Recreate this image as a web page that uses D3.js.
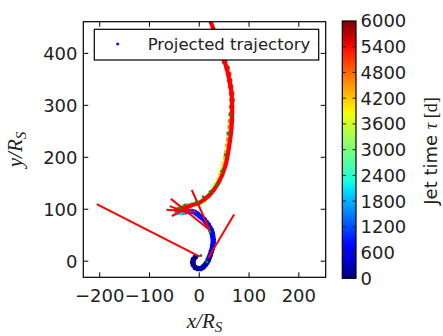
<!DOCTYPE html>
<html>
<head>
<meta charset="utf-8">
<script src="https://cdn.jsdelivr.net/npm/d3@7"></script>
<style>
  body { margin: 0; background: #fff; }
  svg { display: block; }
</style>
</head>
<body>
<div id="chart"></div>
<script>
// trajectory points (x, y in R_S, jet time tau in days)
var trajX = [-8, -12, -13, -12, -8, -3, 3, 8, 12, 15, 18, 20, 22, 24, 26, 27, 28, 28, 27, 26,
  24, 21, 18, 14, 10, 5, 1, -4, -9, -15, -21, -27, -33, -39, -45,
  -40, -32, -24, -15, -6, 2, 10, 17, 23, 29, 34, 39, 43, 47, 50, 53, 55, 57, 59, 60,
  62, 63, 64, 65, 66, 65, 63, 61, 59, 56, 51, 45, 39, 33, 28];
var trajY = [8, 3, -2, -7, -12, -14, -14, -11, -7, -3, 2, 7, 12, 18, 24, 30, 36, 42, 48, 54,
  60, 65, 70, 75, 80, 84, 87, 91, 94, 96, 96, 95, 94, 94, 94,
  100, 104, 107, 109, 111, 113, 118, 124, 131, 139, 148, 157, 167, 177, 188, 199, 210, 222, 234, 246,
  258, 270, 283, 297, 310, 323, 336, 348, 360, 372, 384, 398, 412, 428, 444];
var trajTau = [0, 30, 60, 90, 120, 160, 200, 240, 280, 320, 360, 400, 440, 480, 520, 560, 600, 640, 680, 700,
  720, 740, 760, 780, 800, 830, 860, 900, 950, 1050, 1200, 1450, 1750, 2050, 2300,
  2600, 2750, 2900, 3000, 3100, 3200, 3300, 3400, 3500, 3600, 3700, 3800, 3900, 4000, 4100, 4200, 4300, 4400, 4500, 4600,
  4700, 4800, 4900, 5000, 5050, 5100, 5150, 5200, 5250, 5300, 5350, 5400, 5400, 5400, 5400];

// thick red jet curve along the late trajectory
var curveX = [-50, -45, -25, 1, 21, 38, 52, 60, 65, 66, 64, 59, 53, 47, 34, 28, 23, 19];
var curveY = [97, 99, 105, 113, 128, 150, 182, 221, 259, 298, 330, 355, 378, 391, 426, 447, 461, 475];

// straight red jet segments
var segX0 = [-206, 70, -57, -15, -66, -55, -59];
var segY0 = [110, 90, 120, 137, 99, 87, 106];
var segX1 = [1, 18, 21, 20, -7, -15, -19];
var segY1 = [9, 6, 60, 62, 95, 106, 91];

// green markers
var markX = [3, 15, 21, -39, -29, -5, 8, 22, 35, 45, 52, 58, 62];
var markY = [11, -1, 57, 102, 108, 115, 124, 134, 147, 173, 205, 246, 282];

var xTicks = [-200, -100, 0, 100, 200];
var yTicks = [0, 100, 200, 300, 400];
var cbTicks = [0, 600, 1200, 1800, 2400, 3000, 3600, 4200, 4800, 5400, 6000];

var W = 443, H = 336;
var plot = {left: 83.3, right: 325.7, top: 21.7, bottom: 277.3};
var cb = {left: 342.3, right: 356, top: 21, bottom: 278.3};

// matplotlib jet colormap
function jet(t) {
  t = Math.max(0, Math.min(1, t));
  function seg(pts) {
    for (var i = 1; i < pts.length; i++) {
      if (t <= pts[i][0]) {
        var a = pts[i - 1], b = pts[i];
        return a[1] + (b[1] - a[1]) * (t - a[0]) / (b[0] - a[0]);
      }
    }
    return pts[pts.length - 1][1];
  }
  var r = seg([[0, 0], [0.35, 0], [0.66, 1], [0.89, 1], [1, 0.5]]);
  var g = seg([[0, 0], [0.125, 0], [0.375, 1], [0.64, 1], [0.91, 0], [1, 0]]);
  var b = seg([[0, 0.5], [0.11, 1], [0.34, 1], [0.65, 0], [1, 0]]);
  return d3.rgb(r * 255, g * 255, b * 255).formatHex();
}

var svg = d3.select("#chart").append("svg")
  .attr("width", W).attr("height", H)
  .style("font-family", "'DejaVu Sans', sans-serif");

var x = d3.scaleLinear().domain([-233, 254]).range([plot.left, plot.right]);
var y = d3.scaleLinear().domain([-31, 461]).range([plot.bottom, plot.top]);
var c = d3.scaleLinear().domain([0, 6000]).range([0, 1]);

svg.append("clipPath").attr("id", "clip")
  .append("rect")
  .attr("x", plot.left).attr("y", plot.top)
  .attr("width", plot.right - plot.left).attr("height", plot.bottom - plot.top);

var g = svg.append("g").attr("clip-path", "url(#clip)");

// scatter
g.selectAll("circle.traj")
  .data(trajX.map(function(d, i) { return [d, trajY[i], trajTau[i]]; }))
  .enter().append("circle")
  .attr("class", "traj")
  .attr("cx", function(d) { return x(d[0]); })
  .attr("cy", function(d) { return y(d[1]); })
  .attr("r", 2.8)
  .attr("fill", function(d) { return jet(c(d[2])); });

// red curve
g.append("path")
  .datum(curveX.map(function(d, i) { return [d, curveY[i]]; }))
  .attr("fill", "none")
  .attr("stroke", "#ff0000")
  .attr("stroke-width", 4.2)
  .attr("d", d3.line()
    .curve(d3.curveCatmullRom)
    .x(function(d) { return x(d[0]); })
    .y(function(d) { return y(d[1]); }));

// red segments
g.selectAll("line.seg")
  .data(segX0.map(function(d, i) { return [d, segY0[i], segX1[i], segY1[i]]; }))
  .enter().append("line")
  .attr("x1", function(d) { return x(d[0]); })
  .attr("y1", function(d) { return y(d[1]); })
  .attr("x2", function(d) { return x(d[2]); })
  .attr("y2", function(d) { return y(d[3]); })
  .attr("stroke", "#ff0000")
  .attr("stroke-width", 2);

// green markers
g.selectAll("circle.mark")
  .data(markX.map(function(d, i) { return [d, markY[i]]; }))
  .enter().append("circle")
  .attr("cx", function(d) { return x(d[0]); })
  .attr("cy", function(d) { return y(d[1]); })
  .attr("r", 1.5)
  .attr("fill", "#109010");

// frame
svg.append("rect")
  .attr("x", plot.left).attr("y", plot.top)
  .attr("width", plot.right - plot.left).attr("height", plot.bottom - plot.top)
  .attr("fill", "none").attr("stroke", "#000").attr("stroke-width", 1.2);

// ticks, inside on all sides
var tl = 5;
xTicks.forEach(function(t) {
  svg.append("line").attr("x1", x(t)).attr("x2", x(t))
    .attr("y1", plot.bottom).attr("y2", plot.bottom - tl).attr("stroke", "#000");
  svg.append("line").attr("x1", x(t)).attr("x2", x(t))
    .attr("y1", plot.top).attr("y2", plot.top + tl).attr("stroke", "#000");
  svg.append("text").attr("x", x(t)).attr("y", 301.5)
    .attr("text-anchor", "middle").attr("font-size", 18).attr("fill", "#222")
    .text(t < 0 ? "\u2212" + Math.abs(t) : t);
});
yTicks.forEach(function(t) {
  svg.append("line").attr("x1", plot.left).attr("x2", plot.left + tl)
    .attr("y1", y(t)).attr("y2", y(t)).attr("stroke", "#000");
  svg.append("line").attr("x1", plot.right).attr("x2", plot.right - tl)
    .attr("y1", y(t)).attr("y2", y(t)).attr("stroke", "#000");
  svg.append("text").attr("x", 77.5).attr("y", y(t)).attr("dy", "0.36em")
    .attr("text-anchor", "end").attr("font-size", 18).attr("fill", "#222")
    .text(t);
});

// axis labels
var xl = svg.append("text").attr("x", (plot.left + plot.right) / 2).attr("y", 328)
  .attr("text-anchor", "middle").attr("font-family", "'Liberation Serif', serif")
  .attr("font-style", "italic").attr("font-size", 21).attr("fill", "#222");
xl.append("tspan").text("x/R");
xl.append("tspan").attr("font-size", 15).attr("dy", 4).text("S");

var yl = svg.append("text")
  .attr("transform", "translate(22," + ((plot.top + plot.bottom) / 2) + ") rotate(-90)")
  .attr("text-anchor", "middle").attr("font-family", "'Liberation Serif', serif")
  .attr("font-style", "italic").attr("font-size", 21).attr("fill", "#222");
yl.append("tspan").text("y/R");
yl.append("tspan").attr("font-size", 15).attr("dy", 4).text("S");

// legend
var lg = svg.append("g");
lg.append("rect").attr("x", 94.3).attr("y", 29.3).attr("width", 224.4).attr("height", 30.7)
  .attr("fill", "#fff").attr("stroke", "#000").attr("stroke-width", 1.2);
lg.append("circle").attr("cx", 117.7).attr("cy", 44).attr("r", 1.6).attr("fill", jet(0.15));
lg.append("text").attr("x", 147.7).attr("y", 50.3).attr("font-size", 16.5).attr("fill", "#222")
  .text("Projected trajectory");

// colorbar
var defs = svg.append("defs");
var grad = defs.append("linearGradient").attr("id", "jetgrad")
  .attr("x1", 0).attr("y1", 1).attr("x2", 0).attr("y2", 0);
d3.range(0, 1.0001, 0.02).forEach(function(t) {
  grad.append("stop").attr("offset", t).attr("stop-color", jet(t));
});
var cy = d3.scaleLinear().domain([0, 6000]).range([cb.bottom, cb.top]);
svg.append("rect").attr("x", cb.left).attr("y", cb.top)
  .attr("width", cb.right - cb.left).attr("height", cb.bottom - cb.top)
  .attr("fill", "url(#jetgrad)").attr("stroke", "#000").attr("stroke-width", 1.2);
cbTicks.forEach(function(t) {
  if (t > 0 && t < 6000) {
    svg.append("line").attr("x1", cb.left).attr("x2", cb.left + 3.5)
      .attr("y1", cy(t)).attr("y2", cy(t)).attr("stroke", "#222");
    svg.append("line").attr("x1", cb.right).attr("x2", cb.right - 3.5)
      .attr("y1", cy(t)).attr("y2", cy(t)).attr("stroke", "#222");
  }
  svg.append("text").attr("x", 360.5).attr("y", cy(t)).attr("dy", "0.36em")
    .attr("font-size", 18).attr("fill", "#222").text(t);
});

var cl = svg.append("text")
  .attr("transform", "translate(437,151) rotate(-90)")
  .attr("text-anchor", "middle").attr("font-size", 18).attr("fill", "#222");
cl.append("tspan").text("Jet time ");
cl.append("tspan").attr("font-family", "'Liberation Serif', serif").attr("font-style", "italic").text("\u03c4");
cl.append("tspan").attr("font-family", "'Liberation Serif', serif").text(" [d]");
</script>
</body>
</html>
